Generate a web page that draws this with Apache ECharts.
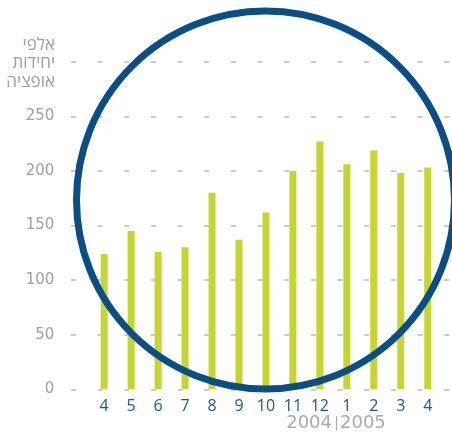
<!DOCTYPE html>
<html>
<head>
<meta charset="utf-8">
<script src="https://cdn.jsdelivr.net/npm/echarts@6/dist/echarts.min.js"></script>
<style>
  html, body { margin: 0; padding: 0; background: #fff; }
  #chart { width: 452px; height: 435px; }
</style>
</head>
<body>
<div id="chart"></div>
<script>
// Monthly option units (thousands), April 2004 – April 2005
const months = ['4', '5', '6', '7', '8', '9', '10', '11', '12', '1', '2', '3', '4'];
const units = [124, 145, 126, 130, 180, 137, 162, 200, 227, 206, 219, 198, 203];
const yTicks = [0, 50, 100, 150, 200, 250, 300];
const yTitle = 'אלפי\nיחידות\nאופציה';
const yearLeft = '2004';
const yearRight = '2005';

const FONT = '"Open Sans", "DejaVu Sans", sans-serif';
const WIDE = '"DejaVu Sans", sans-serif';
const GREY = '#9f9dab';
const BLUE = '#155a92';

const chart = echarts.init(document.getElementById('chart'), null, { renderer: 'canvas' });

const yMax = yTicks[yTicks.length - 1];
const yStep = yTicks[1] - yTicks[0];

chart.setOption({
  animation: false,
  grid: [
    // background grid carrying the dashed lines and the value labels
    { left: 70.9, right: 0, top: 61.7, bottom: 45.7 },
    // plotting grid for the bars
    { left: 90.7, right: 10.8, top: 61.7, bottom: 45.7 }
  ],
  xAxis: [
    { gridIndex: 0, type: 'category', data: months, show: false },
    {
      gridIndex: 1, type: 'category', data: months,
      axisLine: { show: false }, axisTick: { show: false },
      axisLabel: { color: BLUE, fontSize: 16, fontFamily: FONT, margin: 9, interval: 0 }
    }
  ],
  yAxis: [
    {
      gridIndex: 0, type: 'value', min: 0, max: yMax, interval: yStep,
      axisLine: { show: false }, axisTick: { show: false },
      axisLabel: {
        color: GREY, fontSize: 15, fontFamily: WIDE, margin: 16.6,
        formatter: v => (v === yMax ? '' : String(v))
      },
      splitLine: { lineStyle: { color: '#c9c8d3', width: 2, type: [5, 21.67] } }
    },
    { gridIndex: 1, type: 'value', min: 0, max: yMax, interval: yStep, show: false }
  ],
  series: [{
    type: 'bar',
    xAxisIndex: 1, yAxisIndex: 1,
    data: units,
    barWidth: 7,
    itemStyle: { color: '#c4d62f' }
  }],
  graphic: [
    {
      type: 'circle', z: 100,
      shape: { cx: 265.5, cy: 200, r: 189 },
      style: { fill: 'none', stroke: '#0a4e86', lineWidth: 7 }
    },
    {
      type: 'text', z: 100, x: 55, y: 35.5,
      style: {
        text: yTitle, align: 'right', verticalAlign: 'top',
        fill: GREY, fontSize: 17, lineHeight: 18.5, fontFamily: FONT
      }
    },
    {
      type: 'text', z: 100, x: 332, y: 423.3,
      style: {
        text: yearLeft, align: 'right', verticalAlign: 'middle',
        fill: '#aaa8b2', fontSize: 18, fontFamily: WIDE
      }
    },
    {
      type: 'line', z: 100,
      shape: { x1: 336.5, y1: 416, x2: 336.5, y2: 430.5 },
      style: { stroke: '#aaa8b2', lineWidth: 1.2 }
    },
    {
      type: 'text', z: 100, x: 340, y: 423.3,
      style: {
        text: yearRight, align: 'left', verticalAlign: 'middle',
        fill: '#aaa8b2', fontSize: 18, fontFamily: WIDE
      }
    }
  ]
});
</script>
</body>
</html>
